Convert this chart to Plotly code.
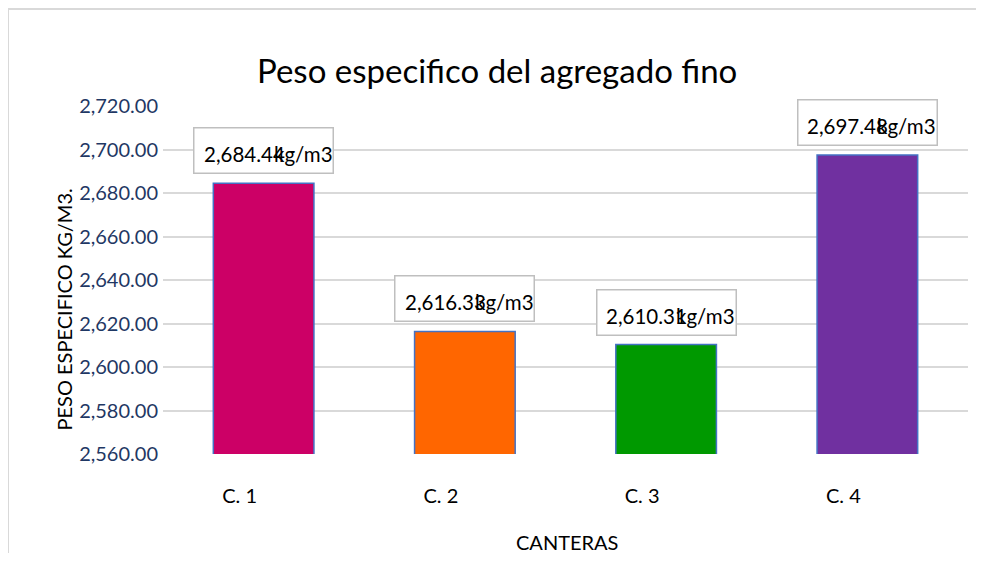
import plotly.graph_objects as go

categories = ["C. 1", "C. 2", "C. 3", "C. 4"]
values = [2684.44, 2616.33, 2610.31, 2697.48]
bar_colors = ["#CC0066", "#FF6600", "#009900", "#7030A0"]
y_ticks = [2560, 2580, 2600, 2620, 2640, 2660, 2680, 2700, 2720]
unit = "kg/m3"

FONT = "Lato"
OFF = 8  # default page body margin
W, H = 984 - OFF, 567 - 2 * OFF - 6
# plot area in page pixels: x 163..968, y 106..454
L = 163 - OFF
R = W - (968 - OFF)
T = 106 - OFF
B = H - (454 - OFF)
PW, PH = W - L - R, H - T - B

def px(xp):
    return (xp - OFF - L) / PW

def py(yp):
    return (H - B - (yp - OFF)) / PH

fig = go.Figure()
fig.add_trace(go.Bar(
    x=categories, y=values,
    marker=dict(color=bar_colors, line=dict(color="#4472C4", width=1.5)),
    width=0.5, showlegend=False, hoverinfo="skip",
))

annotations = []
for c, v in zip(categories, values):
    annotations.append(dict(
        x=c, y=v, xref="x", yref="y", text=" ", showarrow=False,
        xanchor="center", yanchor="bottom", yshift=9,
        width=136, height=42, borderpad=1,
        bordercolor="#BFBFBF", borderwidth=1.5, bgcolor="white",
    ))
    annotations.append(dict(
        x=c, y=v, xref="x", yref="y", text=f"{v:,.2f}", showarrow=False,
        xanchor="left", yanchor="middle", xshift=-62, yshift=29,
        font=dict(family=FONT, size=20.5, color="#000000"),
    ))
    annotations.append(dict(
        x=c, y=v, xref="x", yref="y", text=unit, showarrow=False,
        xanchor="left", yanchor="middle", xshift=8, yshift=29,
        font=dict(family=FONT, size=20.5, color="#000000"),
    ))

annotations.append(dict(
    x=px(497), y=py(70), xref="paper", yref="paper",
    text="Peso especifico del agregado fino", showarrow=False,
    xanchor="center", yanchor="middle",
    font=dict(family=FONT, size=33, color="#000000"),
))
annotations.append(dict(
    x=px(567), y=py(542), xref="paper", yref="paper",
    text="CANTERAS", showarrow=False, xanchor="center", yanchor="middle",
    font=dict(family=FONT, size=20, color="#000000"),
))
annotations.append(dict(
    x=px(63.5), y=py(310), xref="paper", yref="paper",
    text="PESO ESPECIFICO KG/M3.", showarrow=False, textangle=-90,
    xanchor="center", yanchor="middle",
    font=dict(family=FONT, size=20, color="#000000"),
))

border = dict(color="#D9D9D9", width=2)
fig.update_layout(
    width=W, height=H,
    margin=dict(l=L, r=R, t=T, b=B, autoexpand=False),
    paper_bgcolor="white", plot_bgcolor="white",
    bargap=0.5,
    annotations=annotations,
    shapes=[
        dict(type="line", xref="paper", yref="paper",
             x0=px(8), x1=px(8), y0=py(600), y1=py(9), line=border, layer="below"),
        dict(type="line", xref="paper", yref="paper",
             x0=px(8), x1=px(1000), y0=py(9), y1=py(9), line=border, layer="below"),
    ],
    xaxis=dict(
        showgrid=False, zeroline=False, showline=False,
        tickfont=dict(family=FONT, size=20, color="#000000"),
        ticklabelshift=-24, ticklabelstandoff=28,
    ),
    yaxis=dict(
        range=[2560, 2720], tickvals=y_ticks,
        ticktext=[f"{t:,.2f}" for t in y_ticks],
        showgrid=True, gridcolor="#D9D9D9", gridwidth=1.5,
        zeroline=False, showline=False,
        tickfont=dict(family=FONT, size=20, color="#1F3864"),
        ticklabelstandoff=4,
    ),
)

fig.write_html("out.html")
